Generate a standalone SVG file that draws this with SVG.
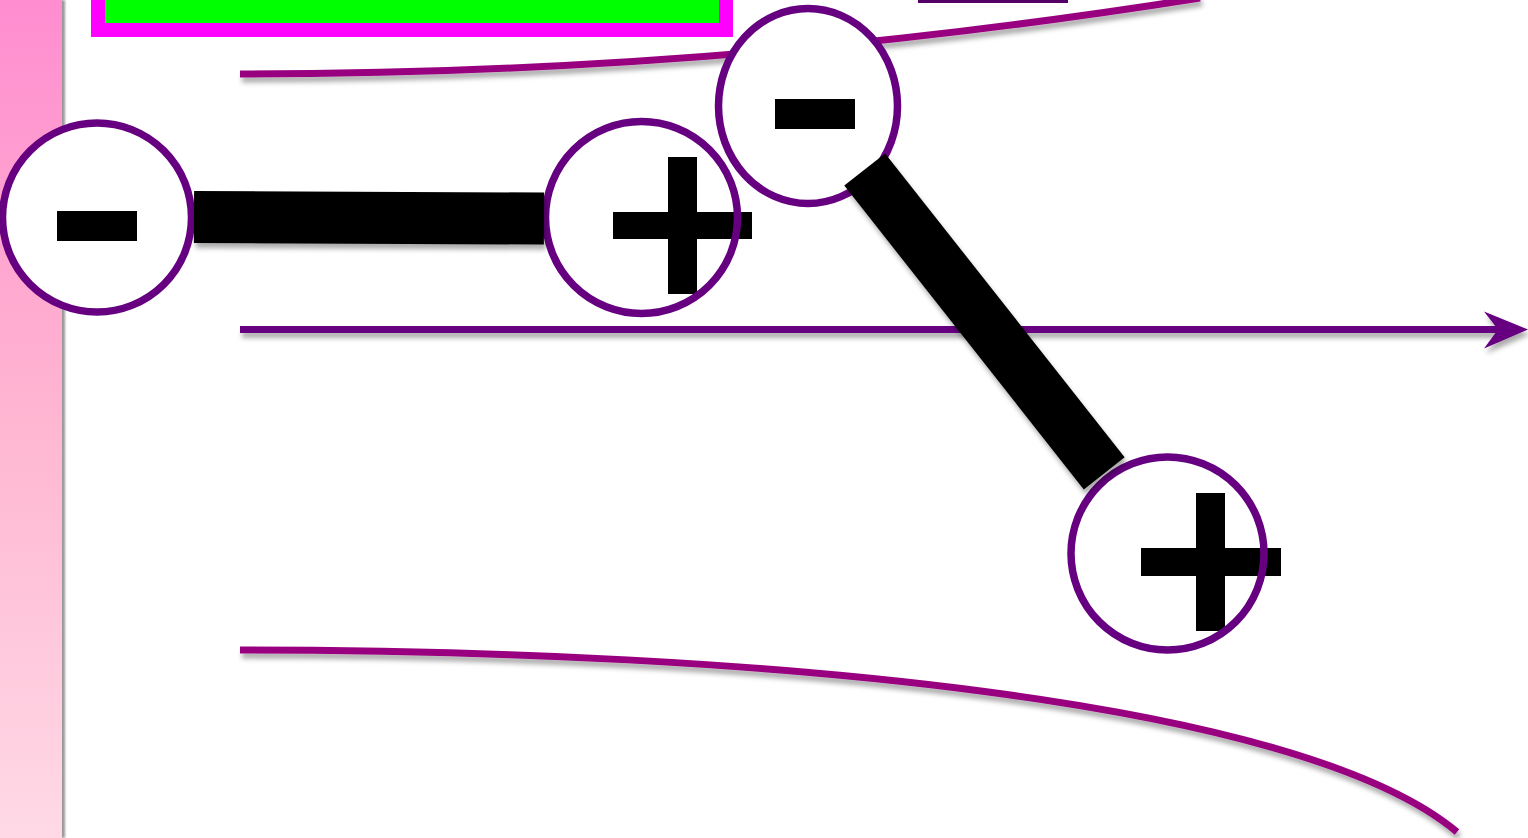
<svg xmlns="http://www.w3.org/2000/svg" width="1528" height="838" viewBox="0 0 1528 838">
<style>
.curve{fill:none;stroke:#990080;stroke-width:7}
.axis{fill:none;stroke:#660080;stroke-width:7}
.bar{stroke:#000;stroke-width:52;stroke-linecap:butt}
.disc{fill:#fff;stroke:none}
.ring{fill:none;stroke:#660080;stroke-width:7.5}
.sign{fill:#000}
</style>
<defs>
<linearGradient id="pink" x1="0" y1="0" x2="0" y2="1">
<stop offset="0" stop-color="#ff8dd0"/>
<stop offset="0.5" stop-color="#ffb6d1"/>
<stop offset="1" stop-color="#ffd9e6"/>
</linearGradient>
<filter id="shadow" x="-10%" y="-10%" width="120%" height="130%">
<feDropShadow dx="2" dy="5" stdDeviation="2.5" flood-color="#000" flood-opacity="0.33"/>
</filter>
<filter id="sideShadow" x="-10%" y="-10%" width="130%" height="120%">
<feDropShadow dx="3" dy="0" stdDeviation="1.2" flood-color="#000" flood-opacity="0.4"/>
</filter>
<marker id="arrow" markerUnits="userSpaceOnUse" markerWidth="50" markerHeight="42" viewBox="0 -21 50 42" refX="14" refY="0" orient="auto">
<path d="M0,-18 L44,0 L0,19 L14,0 z" fill="#660080"/>
</marker>
</defs>

<g id="background">
<rect x="0" y="0" width="62" height="838" fill="url(#pink)" filter="url(#sideShadow)"/>
<rect x="98" y="-20" width="628" height="50" fill="#00ff00" stroke="#ff00ff" stroke-width="14"/>
<rect x="918" y="-5" width="150" height="8" fill="#550066"/>
</g>

<g id="field-lines" filter="url(#shadow)">
<path class="curve" d="M240,74 C640,74 960,36 1200,-2"/>
<path class="curve" d="M240,650 C760,650 1300,700 1457,832"/>
<path class="axis" d="M240,329.5 L1498,329.5" marker-end="url(#arrow)"/>
</g>

<g id="node-minus-left">
<circle class="disc" cx="97" cy="217.5" r="94.5"/>
<rect class="sign" x="57" y="211" width="80" height="30"/>
<circle class="ring" cx="97" cy="217.5" r="94.5"/>
</g>

<g id="node-plus-left">
<circle class="disc" cx="641.5" cy="217.5" r="96"/>
<rect class="sign" x="613" y="212" width="139" height="27"/>
<rect class="sign" x="668" y="157" width="29" height="137"/>
<circle class="ring" cx="641.5" cy="217.5" r="96"/>
</g>

<g id="node-minus-top">
<ellipse class="disc" cx="808" cy="106" rx="89.5" ry="97.5"/>
<rect class="sign" x="775" y="99" width="80" height="30"/>
<ellipse class="ring" cx="808" cy="106" rx="89.5" ry="97.5"/>
</g>

<g id="node-plus-bottom">
<circle class="disc" cx="1167.5" cy="553.5" r="96.5"/>
<rect class="sign" x="1141" y="548" width="140" height="28"/>
<rect class="sign" x="1196" y="493" width="29" height="138"/>
<circle class="ring" cx="1167.5" cy="553.5" r="96.5"/>
</g>

<g id="connectors" filter="url(#shadow)">
<line class="bar" x1="194" y1="217" x2="544" y2="218.5"/>
<line class="bar" x1="864.7" y1="169.5" x2="1104.2" y2="473.3"/>
</g>
</svg>
